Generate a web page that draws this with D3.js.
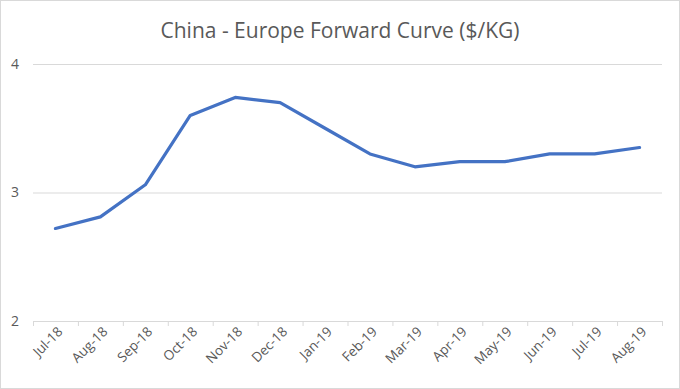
<!DOCTYPE html>
<html>
<head>
<meta charset="utf-8">
<script src="https://cdn.jsdelivr.net/npm/d3@7"></script>
<style>
  body { margin: 0; background: #fff; }
  svg text { font-family: "Open Sans", "Noto Sans", sans-serif; fill: #595959; }
</style>
</head>
<body>
<svg id="canvas"></svg>
<script>
let months = ["Jul-18","Aug-18","Sep-18","Oct-18","Nov-18","Dec-18","Jan-19","Feb-19","Mar-19","Apr-19","May-19","Jun-19","Jul-19","Aug-19"]
let prices = [2.72, 2.81, 3.06, 3.60, 3.74, 3.70, 3.50, 3.30, 3.20, 3.24, 3.24, 3.30, 3.30, 3.35]
let yTicks = [2, 3, 4]
let title = 'China - Europe Forward Curve ($/KG)'

let width = 680
let height = 389
let plotLeft = 33, plotRight = 662, plotTop = 64, plotBottom = 321

let canvas = d3.select('#canvas').attr('width', width).attr('height', height)

canvas.append('rect')
  .attr('x', 0.5).attr('y', 0.5)
  .attr('width', width - 1).attr('height', height - 1)
  .attr('fill', '#fff').attr('stroke', '#d9d9d9')

let xScale = d3.scaleBand().domain(months).range([plotLeft, plotRight])
let yScale = d3.scaleLinear().domain([2, 4]).range([plotBottom, plotTop])

// gridlines
canvas.append('g')
  .selectAll('line')
  .data(yTicks.slice(1))
  .enter()
  .append('line')
  .attr('x1', plotLeft).attr('x2', plotRight)
  .attr('y1', d => yScale(d) + 0.5).attr('y2', d => yScale(d) + 0.5)
  .attr('stroke', '#d9d9d9')

// y labels
let yAxis = d3.axisLeft(yScale).tickValues(yTicks).tickSize(0).tickPadding(14).tickFormat(d3.format('d'))
let yg = canvas.append('g').attr('transform', `translate(${plotLeft},0)`).call(yAxis)
yg.select('.domain').remove()
yg.selectAll('text').style('font-size', '14px').attr('fill', '#595959')

// x axis
let xAxis = d3.axisBottom(xScale).tickSize(0)
let xg = canvas.append('g').attr('transform', `translate(0,${plotBottom + 0.5})`).call(xAxis)
xg.select('.domain').attr('stroke', '#d9d9d9').attr('d', `M${plotLeft},0H${plotRight}`)
xg.selectAll('.tick line').remove()
xg.selectAll('.tick text')
  .style('font-size', '13.5px')
  .attr('fill', '#595959')
  .attr('text-anchor', 'end')
  .attr('dy', 0)
  .attr('transform', 'translate(8,11) rotate(-45)')
  .attr('y', 0)

// category boundary ticks
canvas.append('g')
  .selectAll('line')
  .data(months.concat(['end']))
  .enter()
  .append('line')
  .attr('x1', (d, i) => plotLeft + i * xScale.step() + 0.5)
  .attr('x2', (d, i) => plotLeft + i * xScale.step() + 0.5)
  .attr('y1', plotBottom).attr('y2', plotBottom + 5)
  .attr('stroke', '#d9d9d9')

// line
let line = d3.line()
  .x((d, i) => xScale(months[i]) + xScale.bandwidth() / 2)
  .y(d => yScale(d))

canvas.append('path')
  .datum(prices)
  .attr('d', line)
  .attr('fill', 'none')
  .attr('stroke', '#4472c4')
  .attr('stroke-width', 3.2)
  .attr('stroke-linejoin', 'round')
  .attr('stroke-linecap', 'round')

canvas.append('text')
  .attr('x', 340).attr('y', 38)
  .attr('text-anchor', 'middle')
  .style('font-size', '21px')
  .text(title)
</script>
</body>
</html>
